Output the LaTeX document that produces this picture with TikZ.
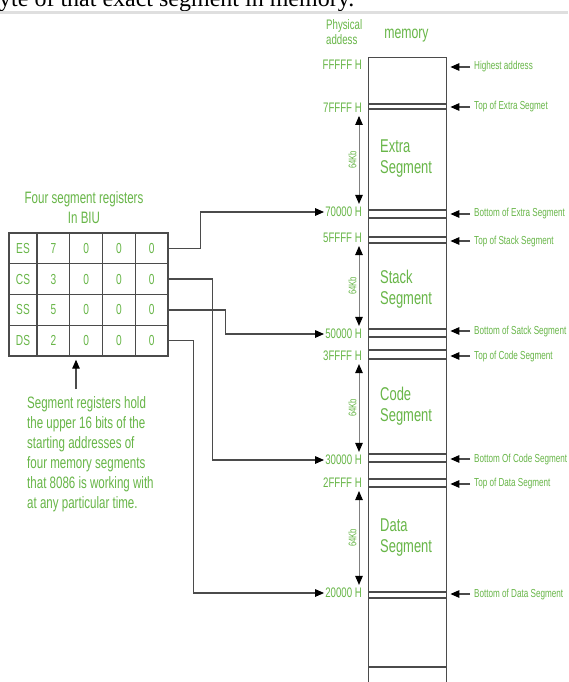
\documentclass[tikz,border=0pt]{standalone}
\usepackage{fontspec}
\setmainfont{Liberation Sans}[FakeStretch=0.7]
\newfontfamily\cutserif{Liberation Serif}
\usepackage{xcolor}
\usepackage{tikz}
\usetikzlibrary{arrows.meta,positioning}
\definecolor{memgreen}{RGB}{104,182,72}
\definecolor{linegray}{RGB}{75,75,75}

\begin{document}
\begin{tikzpicture}[
  x=1pt,y=-1pt,
  >={Triangle[length=9pt,width=7.5pt,color=black]},
  every node/.style={text=memgreen,inner sep=1pt},
  anode/.style={anchor=east,font=\fontsize{13.8}{15}\selectfont},
  lnode/.style={anchor=west,font=\fontsize{11.6}{13}\selectfont},
  snode/.style={anchor=west,align=left,inner sep=0pt,
                font=\fontsize{18.5}{21}\selectfont},
  cnode/.style={draw=linegray,line width=1.4pt,inner sep=0pt,
                minimum width=32.75,minimum height=30.75,
                font=\fontsize{14.5}{16}\selectfont},
  conn/.style={->,draw=linegray,line width=1.3pt},
  memline/.style={draw=linegray,line width=1.4pt},
  kb/.style={<->,draw=gray,line width=0.9pt,shorten >=2pt,shorten <=2pt},
  kbtext/.style={font=\fontsize{11}{12}\selectfont,inner sep=2pt}
]
\useasboundingbox (0,0) rectangle (568,682);
\fill[white] (0,0) rectangle (568,682);
\clip (0,0) rectangle (568,682);

% ---- page text cut at the top ----
\node[anchor=base west,inner sep=0pt,text=black,
      font=\cutserif\fontsize{24}{24}\selectfont] (cut) at (-1,6.5)
      {yte of that exact segment in memory.};
\draw[gray!25,line width=3pt] (0,12.5) -- (568,12.5);

% ---- memory column ----
\node[draw=linegray,line width=1.4pt,anchor=north west,
      minimum width=78,minimum height=660] (mem) at (368,57) {};
\foreach \ya in {104,109,210,218,237,243,329,337,350,359,454,462,479,487,592,598,667}
  \draw[memline] (mem.west |- 0,\ya) -- (mem.east |- 0,\ya);

\node[anchor=west,align=left,inner sep=0pt,
      font=\fontsize{13.8}{15}\selectfont] (phys) at (326,32.5) {Physical\\addess};
\node[font=\fontsize{17.5}{18}\selectfont] (memtitle) at (406.5,36) {memory};

% ---- segment names ----
\node[snode] (extra) at (380,159) {Extra\\Segment};
\node[snode] (stack) at (380,289) {Stack\\Segment};
\node[snode] (code)  at (380,406) {Code\\Segment};
\node[snode] (data)  at (380,538) {Data\\Segment};

% ---- physical addresses ----
\foreach \nm/\txt/\y in {fffff/FFFFF H/65,7ffff/7FFFF H/108,70000/70000 H/212,
    5ffff/5FFFF H/238,50000/50000 H/334,3ffff/3FFFF H/356,30000/30000 H/460,
    2ffff/2FFFF H/483,20000/20000 H/593}
  \node[anode] (a\nm) at (363,\y) {\txt};

% ---- 64Kb spans ----
\coordinate (kbx) at (359,0);
\foreach \tp/\bt in {7ffff/70000,5ffff/50000,3ffff/30000,2ffff/20000}
  \draw[kb] (a\bt.north -| kbx) -- (a\tp.south -| kbx)
    node[midway,sloped,above,kbtext] {64Kb};

% ---- labels on the right ----
\foreach \nm/\txt/\y in {high/Highest address/67,
    te/Top of Extra Segmet/107,be/Bottom of Extra Segment/214,
    ts/Top of Stack Segment/241,bs/Bottom of Satck Segment/331,
    tc/Top of Code Segment/356,bc/Bottom Of Code Segment/459,
    td/Top of Data Segment/484,bd/Bottom of Data Segment/594}{
  \node[lnode] (n\nm) at (473,\y) {\txt};
  \draw[conn,shorten >=3pt,shorten <=3pt] (n\nm.west) -- (mem.east |- n\nm.west);
}

% ---- segment registers in BIU ----
\node[align=center,font=\fontsize{16.5}{20}\selectfont] (biu) at (84,208)
  {Four segment registers\\In BIU};
\foreach \reg/\dig [count=\i] in {ES/7,CS/3,SS/5,DS/2}{
  \pgfmathsetmacro\yc{233+30.75*(\i-0.5)}
  \node[cnode,minimum width=28] (cell\i-1) at (23,\yc) {\reg};
  \node[cnode] (cell\i-2) at (53.375,\yc) {\dig};
  \foreach \j/\xc in {3/86.125,4/118.875,5/151.625}
    \node[cnode] (cell\i-\j) at (\xc,\yc) {0};
}

\draw[conn] (cell1-5.east) -- ++(32,0) |- (a70000.west);
\draw[conn] (cell2-5.east) -- ++(44,0) |- (a30000.west);
\draw[conn] (cell3-5.east) -- ++(57,0) |- (a50000.west);
\draw[conn] (cell4-5.east) -- ++(25,0) |- (a20000.west);

% ---- note below the registers ----
\node[anchor=north west,align=left,inner sep=0pt,
      font=\fontsize{16.5}{20}\selectfont] (note) at (27,396)
  {Segment registers hold\\the upper 16 bits of the\\starting addresses of\\
   four memory segments\\that 8086 is working with\\at any particular time.};
\coordinate (tipx) at (76,0);
\draw[conn,shorten <=7pt,shorten >=3pt] (note.north -| tipx) -- (cell4-3.south -| tipx);

\end{tikzpicture}
\end{document}
